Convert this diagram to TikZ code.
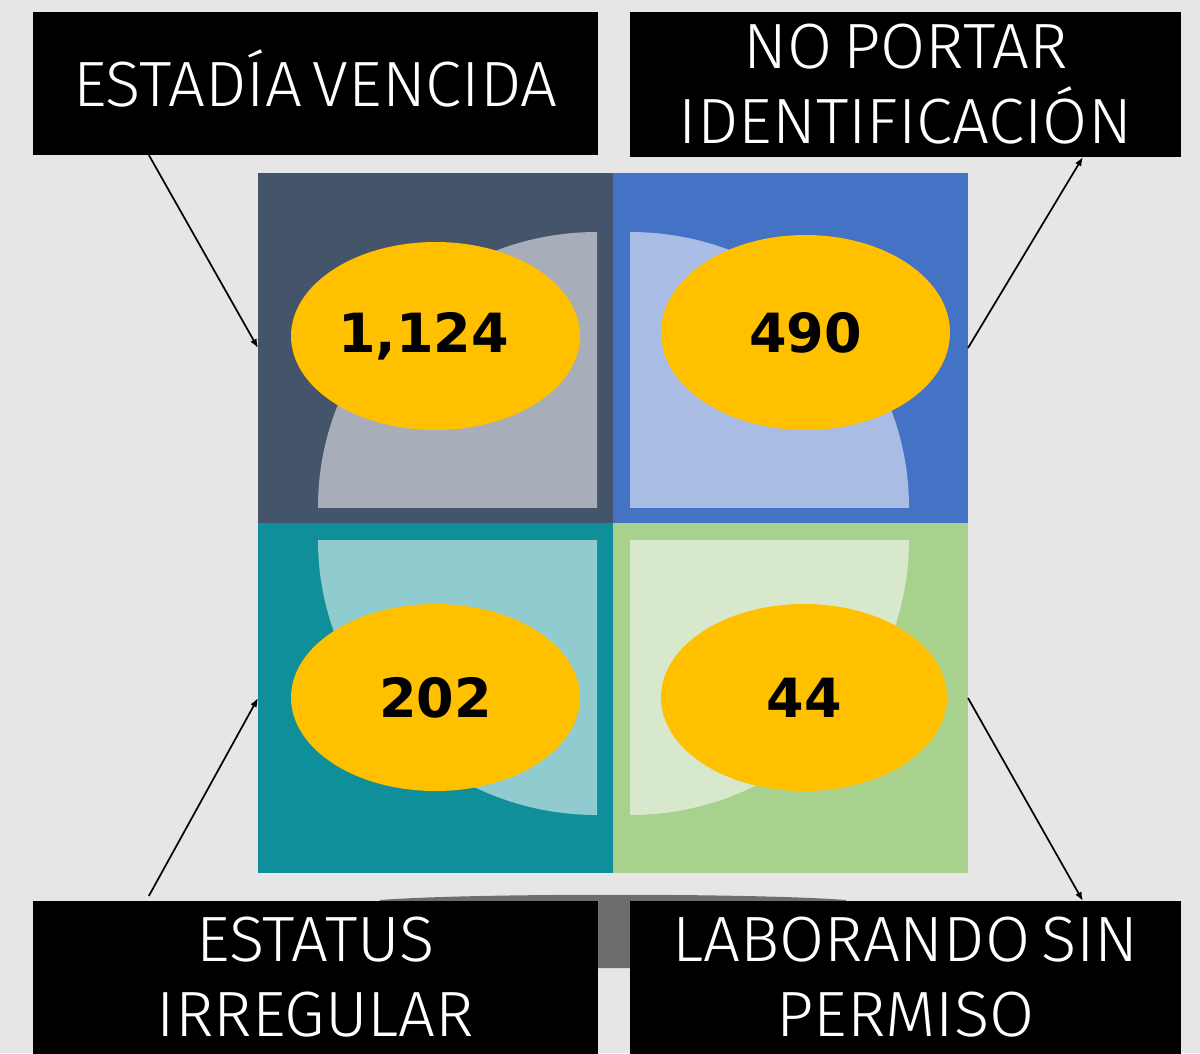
\documentclass[tikz,border=0pt]{standalone}
\usepackage{fontspec}
\setmainfont{DejaVu Sans}
\newfontfamily\labelfont{Fira Sans Light}[FakeStretch=1.02,WordSpace=0.6]
\usetikzlibrary{shapes.geometric,calc,arrows.meta}
\definecolor{bgc}{HTML}{E7E6E6}
\definecolor{basegray}{HTML}{6D6D6D}
\definecolor{qa}{HTML}{44546A}
\definecolor{qb}{HTML}{4472C4}
\definecolor{qc}{HTML}{0F8F99}
\definecolor{qd}{HTML}{A9D18E}
\definecolor{la}{HTML}{A7AEB9}
\definecolor{lb}{HTML}{A8BCE4}
\definecolor{lc}{HTML}{8FCBCF}
\definecolor{ld}{HTML}{D7E8CC}
\definecolor{gold}{HTML}{FFC000}
\tikzset{
  quad/.style={rectangle,inner sep=0,outer sep=0,minimum width=355,minimum height=350},
  lbl/.style={rectangle,fill=black,inner sep=0,outer sep=0,text=white,align=center,
    font=\labelfont\fontsize{64}{75}\selectfont},
  val/.style={ellipse,fill=gold,inner sep=0,outer sep=0,text=black,
    font=\bfseries\fontsize{54}{60}\selectfont},
  conn/.style={draw=black,line width=1.7pt,-{Latex[length=9pt,width=7pt]}}
}
\begin{document}
\begin{tikzpicture}[x=1pt,y=-1pt]
\useasboundingbox (0,0) rectangle (1200,1053);
\fill[bgc] (0,0) rectangle (1200,1053);
% gray base behind the lower labels
\fill[basegray] (380,900) .. controls (470,893) and (756,893) .. (846,900) -- (846,968) -- (380,968) -- cycle;
% label boxes
\node[lbl,minimum width=565,minimum height=143] (b1) at (315.5,83.5) {\raisebox{-22.5pt}[0pt][0pt]{ESTADÍA VENCIDA}};
\node[lbl,minimum width=551,minimum height=145] (b2) at (905.5,84.5) {NO PORTAR\\IDENTIFICACIÓN};
\node[lbl,minimum width=565,minimum height=153] (b3) at (315.5,977.5) {ESTATUS\\IRREGULAR};
\node[lbl,minimum width=551,minimum height=153] (b4) at (905.5,977.5) {LABORANDO SIN\\PERMISO};
% quadrants
\node[quad,fill=qa] (q1) at (435.5,348) {};
\node[quad,fill=qb] (q2) at (790.5,348) {};
\node[quad,fill=qc] (q3) at (435.5,698) {};
\node[quad,fill=qd] (q4) at (790.5,698) {};
% quarter discs
\begin{scope}
  \clip (318,232) rectangle (597,507);
  \fill[la] (597,507) ellipse [x radius=279,y radius=275];
\end{scope}
\begin{scope}
  \clip (630,232) rectangle (909,507);
  \fill[lb] (630,507) ellipse [x radius=279,y radius=275];
\end{scope}
\begin{scope}
  \clip (318,540) rectangle (597,815);
  \fill[lc] (597,540) ellipse [x radius=279,y radius=275];
\end{scope}
\begin{scope}
  \clip (630,540) rectangle (909,815);
  \fill[ld] (630,540) ellipse [x radius=279,y radius=275];
\end{scope}
% values
\node[val,minimum width=289,minimum height=188] (e1) at (435.5,336) {\hspace*{-24pt}1,124};
\node[val,minimum width=289,minimum height=195] (e2) at (805.5,332.5) {490};
\node[val,minimum width=289,minimum height=187] (e3) at (435.5,697.5) {202};
\node[val,minimum width=286,minimum height=187] (e4) at (804,697.5) {44};
% connectors
\draw[conn] ($(b1.south west)!0.205!(b1.south east)$) -- (q1.west);
\draw[conn] (q2.east) -- ($(b2.south west)!0.822!(b2.south east)$);
\draw[conn] ($(b3.north west)!0.205!(b3.north east)+(0,-5)$) -- (q3.west);
\draw[conn] (q4.east) -- ($(b4.north west)!0.822!(b4.north east)$);
\end{tikzpicture}
\end{document}
